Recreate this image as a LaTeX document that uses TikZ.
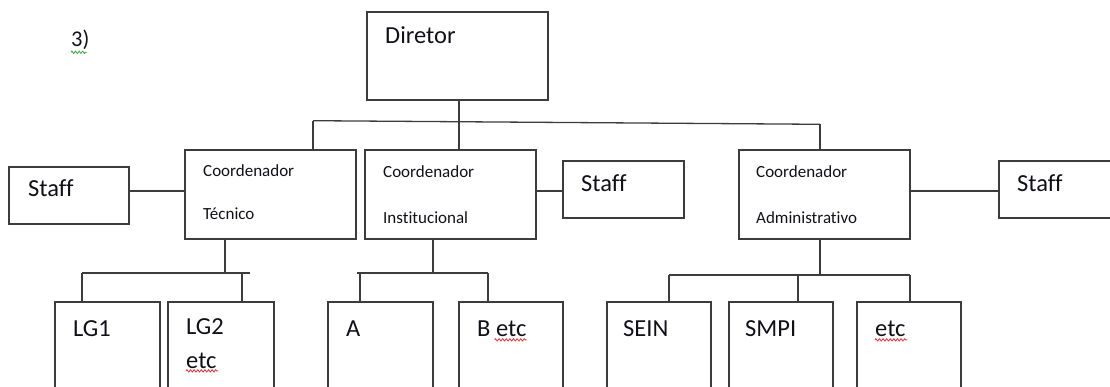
\documentclass[tikz,border=0pt]{standalone}
\usepackage{fontspec}
\setmainfont{Carlito}[Ligatures=NoCommon]
\usetikzlibrary{decorations.pathmorphing}
\definecolor{linec}{HTML}{3C3C3C}
\definecolor{inkc}{HTML}{101018}
\definecolor{spellred}{HTML}{E8343A}
\definecolor{spellgreen}{HTML}{3DAA3D}

\begin{document}
\begin{tikzpicture}[x=1pt,y=-1pt,
  box/.style={draw=linec, line width=1.3pt, inner sep=0pt, outer sep=0pt,
              anchor=north west},
  link/.style={draw=linec, line width=1.3pt},
  big/.style={inner sep=0pt, anchor=base west, text=inkc,
              font=\fontsize{24.5}{29}\selectfont},
  small/.style={inner sep=0pt, anchor=base west, text=inkc,
                font=\fontsize{17}{20}\selectfont},
  squiggle/.style={line width=0.8pt, decorate,
                   decoration={zigzag, segment length=3.6pt, amplitude=1.2pt}}
]
\useasboundingbox (0,0) rectangle (1110,387);
\clip (0,0) rectangle (1110,387);

% --- boxes -------------------------------------------------------------
\node[box, minimum width=181pt, minimum height=88pt] (dir) at (367,12) {};

\node[box, minimum width=120pt, minimum height=57pt] (stL) at (9,167) {};
\node[box, minimum width=171pt, minimum height=89pt] (tec) at (185,150) {};
\node[box, minimum width=171pt, minimum height=89pt] (ins) at (365,150) {};
\node[box, minimum width=121pt, minimum height=57pt] (stM) at (563,161) {};
\node[box, minimum width=171pt, minimum height=89pt] (adm) at (739,150) {};
\node[box, minimum width=140pt, minimum height=57pt] (stR) at (999,161) {};

\node[box, minimum width=105pt, minimum height=120pt] (lg1) at (55,302) {};
\node[box, minimum width=106pt, minimum height=120pt] (lg2) at (168,302) {};
\node[box, minimum width=105pt, minimum height=120pt] (ba)  at (328,302) {};
\node[box, minimum width=104pt, minimum height=120pt] (bb)  at (459,302) {};
\node[box, minimum width=104pt, minimum height=120pt] (sein) at (607,302) {};
\node[box, minimum width=104pt, minimum height=120pt] (smpi) at (729,302) {};
\node[box, minimum width=104pt, minimum height=120pt] (betc) at (857,302) {};

% --- texts -------------------------------------------------------------
\node[big, font=\fontsize{22.5}{26}\selectfont] (num) at (71,47) {3)};
\node[big] (tdir) at (385,44) {Diretor};
\node[big] (tstL) at (28,197) {Staff};
\node[big] (tstM) at (581,192) {Staff};
\node[big] (tstR) at (1017,192) {Staff};

\node[small] (ttec1) at (203,177) {Coordenador};
\node[small] (ttec2) at (203,220) {Técnico};
\node[small] (tins1) at (383,178) {Coordenador};
\node[small] (tins2) at (383,224) {Institucional};
\node[small] (tadm1) at (756,178) {Coordenador};
\node[small] (tadm2) at (756,224) {Administrativo};

\node[big] (tlg1) at (73,336) {LG1};
\node[big] (tlg2) at (186,334) {LG2};
\node[big] (tlg2b) at (186,368) {etc};
\node[big] (tba) at (346,336) {A};
\node[big] (tbb) at (477,336) {B etc};
\node[big] (tsein) at (623,336) {SEIN};
\node[big] (tsmpi) at (745,336) {SMPI};
\node[big] (tbetc) at (875,336) {etc};

% --- proofing marks under words ----------------------------------------
\draw[squiggle, spellgreen] (num.south west) ++(0,2) -- ++(16,0);
\draw[squiggle, spellred] (tlg2b.south west) ++(0,2.5) -- ++(32,0);
\draw[squiggle, spellred] (tbb.south east) ++(-32,3.5) -- ++(32,0);
\draw[squiggle, spellred] (tbetc.south west) ++(0,3.5) -- ++(32,0);

% --- top bus -----------------------------------------------------------
\coordinate (busL) at (313,120.7);
\coordinate (busM) at (459,121.7);
\coordinate (busR) at (820,124.3);
\draw[link] (busL) -- (busR);
\draw[link] (dir.south -| busM) -- (busM);
\draw[link] (busL) -- (busL |- tec.north);
\draw[link] (busM) -- (busM |- ins.north);
\draw[link] (busR) -- (busR |- adm.north);

% --- staff links -------------------------------------------------------
\coordinate (sy) at (0,191);
\draw[link] (stL.east |- sy) -- (tec.west |- sy);
\draw[link] (ins.east |- sy) -- (stM.west |- sy);
\draw[link] (adm.east |- sy) -- (stR.west |- sy);

% --- technical branch --------------------------------------------------
\coordinate (tv) at (225,273);
\coordinate (tl) at (82,273);
\coordinate (tr) at (242,273);
\coordinate (te) at (250,273);
\draw[link] (tv |- tec.south) -- (tv);
\draw[link] (tl) -- (te);
\draw[link] (tl) -- (tl |- lg1.north);
\draw[link] (tr) -- (tr |- lg2.north);

% --- institutional branch ----------------------------------------------
\coordinate (iv) at (433,273);
\coordinate (is) at (357,273);
\coordinate (il) at (360,273);
\coordinate (ir) at (488,273);
\draw[link] (iv |- ins.south) -- (iv);
\draw[link] (is) -- (ir);
\draw[link] (il) -- (il |- ba.north);
\draw[link] (ir) -- (ir |- bb.north);

% --- administrative branch ---------------------------------------------
\coordinate (av) at (820,275);
\coordinate (al) at (669,275);
\coordinate (am) at (798,275);
\coordinate (ar) at (910,275);
\draw[link] (av |- adm.south) -- (av);
\draw[link] (al) -- (ar);
\draw[link] (al) -- (al |- sein.north);
\draw[link] (am) -- (am |- smpi.north);
\draw[link] (ar) -- (ar |- betc.north);
\end{tikzpicture}
\end{document}
